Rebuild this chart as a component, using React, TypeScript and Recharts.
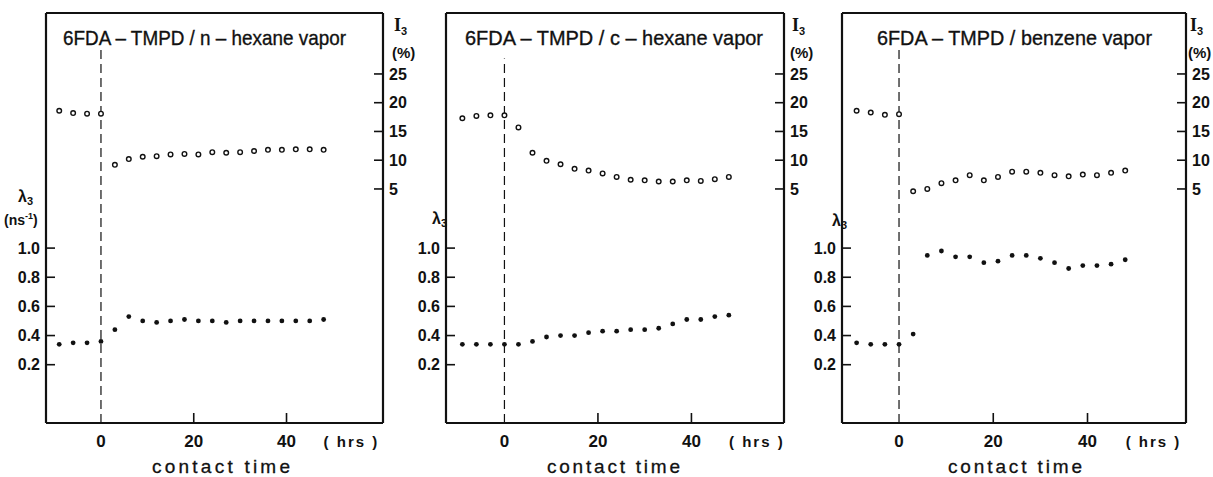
import React from 'react';
import { ScatterChart, Scatter, XAxis, YAxis, ReferenceLine } from 'recharts';

// contact time (hrs), shared by the three panels
const times = [-9, -6, -3, 0, 3, 6, 9, 12, 15, 18, 21, 24, 27, 30, 33, 36, 39, 42, 45, 48];

// 6FDA-TMPD / n-hexane
const nHexaneI3 = [18.6, 18.2, 18.1, 18.1, 9.2, 10.2, 10.6, 10.7, 11.0, 11.1, 11.0, 11.4, 11.3, 11.4, 11.6, 11.8, 11.8, 11.9, 11.9, 11.8];
const nHexaneLambda = [0.34, 0.35, 0.35, 0.36, 0.44, 0.53, 0.5, 0.49, 0.5, 0.51, 0.5, 0.5, 0.49, 0.5, 0.5, 0.5, 0.5, 0.5, 0.5, 0.51];

// 6FDA-TMPD / c-hexane
const cHexaneI3 = [17.3, 17.7, 17.8, 17.8, 15.7, 11.3, 9.9, 9.3, 8.5, 8.2, 7.7, 7.1, 6.6, 6.5, 6.3, 6.3, 6.5, 6.4, 6.7, 7.1];
const cHexaneLambda = [0.34, 0.34, 0.34, 0.34, 0.34, 0.36, 0.39, 0.4, 0.4, 0.42, 0.43, 0.43, 0.44, 0.44, 0.45, 0.48, 0.51, 0.51, 0.53, 0.54];

// 6FDA-TMPD / benzene
const benzeneI3 = [18.6, 18.3, 17.9, 18.0, 4.6, 5.0, 6.0, 6.5, 7.4, 6.5, 7.1, 8.0, 8.0, 7.8, 7.4, 7.2, 7.5, 7.4, 7.8, 8.2];
const benzeneLambda = [0.35, 0.34, 0.34, 0.34, 0.41, 0.95, 0.98, 0.94, 0.94, 0.9, 0.91, 0.95, 0.95, 0.93, 0.9, 0.86, 0.88, 0.88, 0.89, 0.92];

const xTicks = [0, 20, 40];
const hrsTick = 54;
const lambdaTicks = [0.2, 0.4, 0.6, 0.8, 1.0];
const i3Ticks = [5, 10, 15, 20, 25];

const W = 1213;
const H = 477;
const TOP = 13;
const BOTTOM = 423;
const AXW = 50;
const LAMBDA_MAX = 2.613;
const INK = '#111';
const FONT = '"Liberation Sans", Arial, sans-serif';

const panels = [
  {
    title: '6FDA – TMPD / n – hexane  vapor',
    titleX: [63, 346],
    left: 46,
    right: 383,
    xDomain: [-11.85, 60.8],
    dashTop: 2.37,
    i3: nHexaneI3,
    lambda: nHexaneLambda,
    lambdaX: 18,
    lambdaY: 202,
    units: true,
    i3X: 394,
    ctX: [152, 290],
  },
  {
    title: '6FDA – TMPD / c – hexane  vapor',
    titleX: [465, 763],
    left: 446,
    right: 784,
    xDomain: [-12.5, 59.8],
    dashTop: 2.3,
    i3: cHexaneI3,
    lambda: cHexaneLambda,
    lambdaX: 432,
    lambdaY: 224,
    units: false,
    i3X: 792,
    ctX: [547, 680],
  },
  {
    title: '6FDA – TMPD / benzene  vapor',
    titleX: [877, 1152],
    left: 842,
    right: 1186,
    xDomain: [-12.1, 60.9],
    dashTop: 2.38,
    i3: benzeneI3,
    lambda: benzeneLambda,
    lambdaX: 832,
    lambdaY: 226,
    units: false,
    i3X: 1190,
    ctX: [948, 1082],
  },
];

const OpenDot = (p: any) => (
  <circle cx={p.cx} cy={p.cy} r={2.3} fill="#fff" stroke={INK} strokeWidth={1.4} />
);
const FilledDot = (p: any) => <circle cx={p.cx} cy={p.cy} r={2.4} fill={INK} />;

const LeftTick = (p: any) => {
  const { x, y, payload } = p;
  return (
    <g>
      <line x1={x} x2={x + 9} y1={y} y2={y} stroke={INK} strokeWidth={1.6} />
      <text x={x - 6} y={y} dy="0.36em" textAnchor="end" fontSize={16} fontWeight="bold" fill={INK} fontFamily={FONT}>
        {Number(payload.value).toFixed(1)}
      </text>
    </g>
  );
};

const RightTick = (p: any) => {
  const { x, y, payload } = p;
  return (
    <g>
      <line x1={x - 9} x2={x} y1={y} y2={y} stroke={INK} strokeWidth={1.6} />
      <text x={x + 6} y={y} dy="0.36em" textAnchor="start" fontSize={16} fontWeight="bold" fill={INK} fontFamily={FONT}>
        {payload.value}
      </text>
    </g>
  );
};

const BottomTick = (p: any) => {
  const { x, y, payload } = p;
  const v = payload.value;
  const isHrs = v === hrsTick;
  return (
    <g>
      {v !== 0 && !isHrs && <line x1={x} x2={x} y1={y} y2={y - 10} stroke={INK} strokeWidth={1.6} />}
      <text x={x} y={y + 24} textAnchor="middle" fontSize={isHrs ? 15 : 17} fontWeight="bold" fill={INK} fontFamily={FONT} letterSpacing={isHrs ? 2 : 0}>
        {isHrs ? '( hrs )' : v}
      </text>
    </g>
  );
};

const Panel = ({ cfg }: { cfg: (typeof panels)[number] }) => {
  const openPts = times.map((t, i) => ({ t, y: cfg.i3[i] }));
  const filledPts = times.map((t, i) => ({ t, y: cfg.lambda[i] }));
  const chartW = cfg.right - cfg.left + AXW * 2;
  return (
    <div style={{ position: 'absolute', left: cfg.left - AXW, top: 0 }}>
      <ScatterChart width={chartW} height={H} margin={{ top: TOP, right: 0, bottom: 0, left: 0 }}>
        <XAxis
          xAxisId="b"
          dataKey="t"
          type="number"
          domain={cfg.xDomain}
          allowDataOverflow
          ticks={[...xTicks, hrsTick]}
          interval={0}
          height={H - BOTTOM}
          tickSize={0}
          tickMargin={0}
          tickLine={false}
          tick={BottomTick}
          axisLine={{ stroke: INK, strokeWidth: 2.2 }}
        />
        <YAxis
          yAxisId="l"
          dataKey="y"
          type="number"
          domain={[-0.2, LAMBDA_MAX]}
          allowDataOverflow
          ticks={lambdaTicks}
          interval={0}
          width={AXW}
          tickSize={0}
          tickMargin={0}
          tickLine={false}
          tick={LeftTick}
          axisLine={{ stroke: INK, strokeWidth: 2.2 }}
        />
        <YAxis
          yAxisId="r"
          orientation="right"
          dataKey="y"
          type="number"
          domain={[-35.7, 35.6]}
          allowDataOverflow
          ticks={i3Ticks}
          interval={0}
          width={AXW}
          tickSize={0}
          tickMargin={0}
          tickLine={false}
          tick={RightTick}
          axisLine={{ stroke: INK, strokeWidth: 2.2 }}
        />
        {/* top edge of the frame */}
        <ReferenceLine xAxisId="b" yAxisId="l" y={LAMBDA_MAX} stroke={INK} strokeWidth={2.2} ifOverflow="visible" />
        <ReferenceLine
          xAxisId="b"
          yAxisId="l"
          segment={[
            { x: 0, y: -0.2 },
            { x: 0, y: cfg.dashTop },
          ]}
          stroke={INK}
          strokeWidth={1.2}
          strokeDasharray="9 5"
          ifOverflow="visible"
        />
        <Scatter xAxisId="b" yAxisId="r" data={openPts} shape={OpenDot} isAnimationActive={false} />
        <Scatter xAxisId="b" yAxisId="l" data={filledPts} shape={FilledDot} isAnimationActive={false} />
      </ScatterChart>
    </div>
  );
};

const Labels = () => (
  <svg width={W} height={H} style={{ position: 'absolute', left: 0, top: 0, pointerEvents: 'none' }} fontFamily={FONT} fill={INK}>
    {panels.map((cfg, i) => (
      <g key={i}>
        <text
          x={cfg.titleX[0]}
          y={45}
          fontSize={21}
          stroke={INK}
          strokeWidth={0.35}
          textLength={cfg.titleX[1] - cfg.titleX[0]}
          lengthAdjust="spacingAndGlyphs"
        >
          {cfg.title}
        </text>
        <text x={cfg.i3X} y={31} fontSize={18} fontFamily='"Liberation Serif", serif' fontWeight="bold">
          I<tspan fontSize={11} dy={4} fontFamily={FONT}>3</tspan>
        </text>
        <text x={cfg.i3X - 2} y={58} fontSize={15} fontWeight="bold">(%)</text>
        <text x={cfg.lambdaX} y={cfg.lambdaY} fontSize={16} fontWeight="bold">
          λ<tspan fontSize={11} dy={3}>3</tspan>
        </text>
        {cfg.units && (
          <text x={4} y={225} fontSize={14} fontWeight="bold">
            (ns<tspan fontSize={9} dy={-6}>-1</tspan>
            <tspan dy={6}>)</tspan>
          </text>
        )}
        <text x={cfg.ctX[0]} y={473} fontSize={19} stroke={INK} strokeWidth={0.3} textLength={cfg.ctX[1] - cfg.ctX[0]} lengthAdjust="spacing">
          contact time
        </text>
      </g>
    ))}
  </svg>
);

export default function App() {
  return (
    <div style={{ position: 'fixed', left: 0, top: 0, width: W, height: H, background: '#fff', overflow: 'hidden' }}>
      {panels.map((cfg, i) => (
        <Panel key={i} cfg={cfg} />
      ))}
      <Labels />
    </div>
  );
}
